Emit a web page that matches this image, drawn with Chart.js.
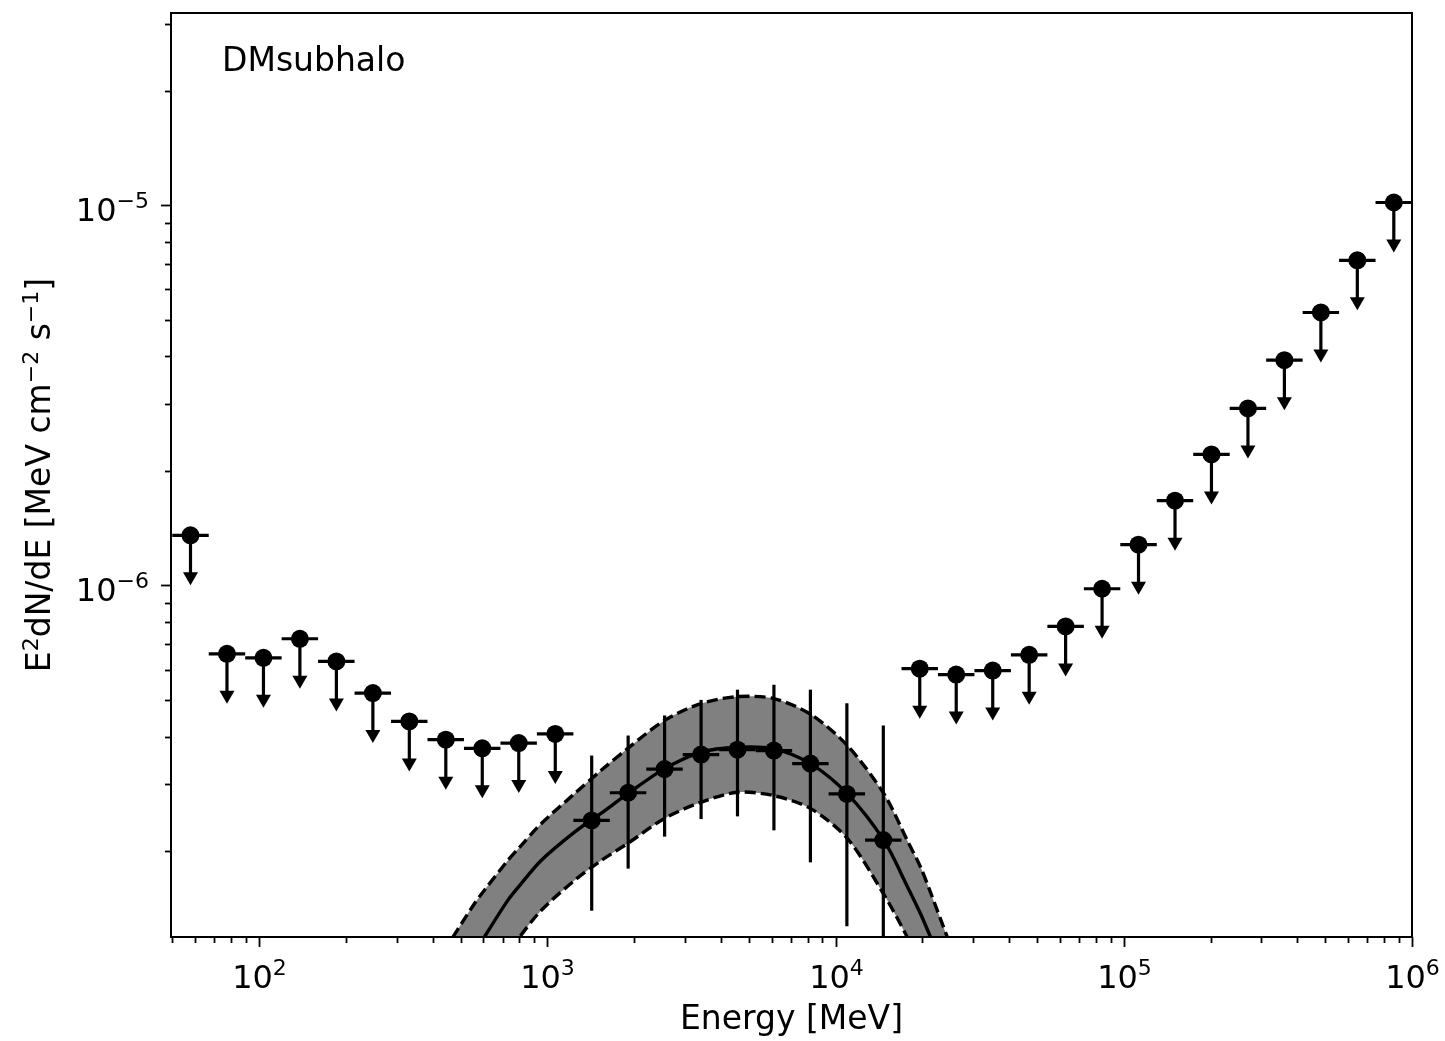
<!DOCTYPE html>
<html>
<head>
<meta charset="utf-8">
<script src="https://cdn.jsdelivr.net/npm/chart.js@4.4.0/dist/chart.umd.min.js"></script>
<style>
  html, body { margin: 0; padding: 0; background: #fff; }
  #wrap { width: 1445px; height: 1041px; }
</style>
</head>
<body>
<div id="wrap"><canvas id="sed"></canvas></div>
<script>
// energy bins (MeV): 34 bins from 50 MeV to 1 TeV
const binEdges = [50.0, 66.92, 89.54, 119.8, 160.3, 214.5, 287.1, 384.1, 514.0, 687.9, 920.4,
  1232, 1648, 2206, 2951, 3949, 5284, 7071, 9462, 12660, 16940, 22670, 30340, 40600, 54330,
  72700, 97270, 130200, 174200, 233100, 311900, 417400, 558500, 747300, 1000000];
const binCenters = [57.84, 77.41, 103.6, 138.6, 185.5, 248.3, 332.2, 444.6, 595.0, 796.3, 1066,
  1426, 1908, 2553, 3417, 4570, 6114, 8182, 10950, 14650, 19600, 26230, 35110, 46970, 62850,
  84100, 112500, 150600, 201500, 269700, 360800, 482900, 646100, 864700];

// E^2 dN/dE (MeV cm^-2 s^-1): flux for detections, upper limit otherwise
const fluxValues = [1.354e-6, 6.61e-7, 6.45e-7, 7.24e-7, 6.31e-7, 5.21e-7, 4.39e-7, 3.93e-7, 3.73e-7, 3.85e-7, 4.07e-7,
  2.41e-7, 2.85e-7, 3.29e-7, 3.59e-7, 3.70e-7, 3.68e-7, 3.40e-7, 2.83e-7, 2.14e-7,
  6.04e-7, 5.83e-7, 5.97e-7, 6.57e-7, 7.80e-7, 9.80e-7, 1.28e-6, 1.67e-6, 2.21e-6, 2.92e-6, 3.91e-6, 5.22e-6, 7.16e-6, 1.016e-5];
// error bar ends, null = upper limit
const fluxLow = [null, null, null, null, null, null, null, null, null, null, null,
  1.395e-7, 1.80e-7, 2.185e-7, 2.43e-7, 2.47e-7, 2.27e-7, 1.87e-7, 1.27e-7, 5.0e-8,
  null, null, null, null, null, null, null, null, null, null, null, null, null, null];
const fluxHigh = [null, null, null, null, null, null, null, null, null, null, null,
  3.57e-7, 4.03e-7, 4.55e-7, 5.00e-7, 5.32e-7, 5.48e-7, 5.32e-7, 4.90e-7, 4.28e-7,
  null, null, null, null, null, null, null, null, null, null, null, null, null, null];

// best-fit model and its band
const modelEnergy = [469.6, 557.9, 604.1, 728.5, 799.0, 950.2, 1240, 1535, 1899, 2543, 3409, 4570, 6111, 8204, 11000, 14730, 17760, 19740, 21380, 24440];
const modelFlux = [8.41e-8, 1.071e-7, 1.187e-7, 1.483e-7, 1.619e-7, 1.889e-7, 2.243e-7, 2.515e-7, 2.830e-7, 3.293e-7, 3.641e-7, 3.753e-7, 3.717e-7, 3.395e-7, 2.830e-7, 2.132e-7, 1.614e-7, 1.368e-7, 1.187e-7, 9.24e-8];
const modelUpper = [1.187e-7, 1.453e-7, 1.577e-7, 1.889e-7, 2.044e-7, 2.36e-7, 2.830e-7, 3.26e-7, 3.724e-7, 4.41e-7, 4.89e-7, 5.10e-7, 5.04e-7, 4.58e-7, 3.79e-7, 2.83e-7, 2.132e-7, 1.814e-7, 1.556e-7, 1.187e-7];
const modelLower = [6.23e-8, 7.99e-8, 8.81e-8, 1.083e-7, 1.187e-7, 1.395e-7, 1.674e-7, 1.889e-7, 2.095e-7, 2.436e-7, 2.69e-7, 2.858e-7, 2.80e-7, 2.589e-7, 2.159e-7, 1.537e-7, 1.187e-7, 1.003e-7, 8.81e-8, 7.08e-8];

const xMajorTicks = [100, 1000, 10000, 100000, 1000000];
const xTickExps = ["2", "3", "4", "5", "6"];
const yMajorTicks = [1e-6, 1e-5];
const yTickExps = ["\u22126", "\u22125"];

const sourceName = "DMsubhalo";

function minorTicks(lo, hi, fromExp, toExp) {
  let out = [];
  for (let e = fromExp; e <= toExp; e++) {
    for (let m = 1; m <= 9; m++) {
      let v = m * Math.pow(10, e);
      if (v >= lo && v <= hi) out.push(v);
    }
  }
  return out;
}

const xMin = 49.5, xMax = 1e6, yMin = 1.19e-7, yMax = 3.2e-5;
const xTicksAll = minorTicks(xMin, xMax, 1, 6);
const yTicksAll = minorTicks(yMin, yMax, -7, -5);

function majorIndex(v, majors) {
  return majors.findIndex(m => Math.abs(v / m - 1) < 1e-6);
}

const font = "DejaVu Sans";
const tickFont = "32px '" + font + "'";
const labelFont = "33px '" + font + "'";
const supFont = "22px '" + font + "'";

// draw text made of [string, isSuperscript] pieces starting at x (baseline y)
function drawPieces(ctx, pieces, x, y, raise, base) {
  pieces.forEach(([s, sup]) => {
    ctx.font = sup ? supFont : base;
    ctx.fillText(s, x, sup ? y - raise : y);
    x += ctx.measureText(s).width;
  });
}
function piecesWidth(ctx, pieces, base) {
  let w = 0;
  pieces.forEach(([s, sup]) => { ctx.font = sup ? supFont : base; w += ctx.measureText(s).width; });
  return w;
}

const sedPlugin = {
  id: "sedMarks",
  afterDatasetsDraw(chart) {
    const { ctx, chartArea: a, scales: { x, y } } = chart;
    ctx.save();
    ctx.beginPath();
    ctx.rect(a.left, a.top, a.right - a.left, a.bottom - a.top);
    ctx.clip();
    ctx.strokeStyle = "#000";
    ctx.fillStyle = "#000";
    ctx.lineWidth = 3.2;
    binCenters.forEach((e, i) => {
      const px = x.getPixelForValue(e);
      const py = y.getPixelForValue(fluxValues[i]);
      ctx.beginPath();
      ctx.moveTo(x.getPixelForValue(binEdges[i]), py);
      ctx.lineTo(x.getPixelForValue(binEdges[i + 1]), py);
      ctx.stroke();
      if (fluxLow[i] === null) {
        const tip = py + 50;
        ctx.beginPath();
        ctx.moveTo(px, py);
        ctx.lineTo(px, tip - 8);
        ctx.stroke();
        ctx.beginPath();
        ctx.moveTo(px - 7.5, tip - 13);
        ctx.lineTo(px + 7.5, tip - 13);
        ctx.lineTo(px, tip);
        ctx.closePath();
        ctx.fill();
      } else {
        ctx.beginPath();
        ctx.moveTo(px, y.getPixelForValue(fluxLow[i]));
        ctx.lineTo(px, y.getPixelForValue(fluxHigh[i]));
        ctx.stroke();
      }
    });
    ctx.restore();
  },
  afterDraw(chart) {
    const { ctx, chartArea: a, scales: { x, y } } = chart;
    ctx.save();
    ctx.strokeStyle = "#000";
    ctx.fillStyle = "#000";
    ctx.lineWidth = 2;
    ctx.strokeRect(a.left, a.top, a.right - a.left, a.bottom - a.top);
    ctx.lineWidth = 1.8;
    ctx.textAlign = "left";
    ctx.textBaseline = "alphabetic";
    x.ticks.forEach(t => {
      const px = Math.round(x.getPixelForValue(t.value)) + 0.5;
      const k = majorIndex(t.value, xMajorTicks);
      ctx.beginPath();
      ctx.moveTo(px, a.bottom);
      ctx.lineTo(px, a.bottom + (k >= 0 ? 10 : 6));
      ctx.stroke();
      if (k >= 0) {
        const pieces = [["10", false], [xTickExps[k], true]];
        const w = piecesWidth(ctx, pieces, tickFont);
        drawPieces(ctx, pieces, px - w / 2, a.bottom + 51, 13, tickFont);
      }
    });
    y.ticks.forEach(t => {
      const py = Math.round(y.getPixelForValue(t.value)) + 0.5;
      const k = majorIndex(t.value, yMajorTicks);
      ctx.beginPath();
      ctx.moveTo(a.left, py);
      ctx.lineTo(a.left - (k >= 0 ? 10 : 6), py);
      ctx.stroke();
      if (k >= 0) {
        const pieces = [["10", false], [yTickExps[k], true]];
        const w = piecesWidth(ctx, pieces, tickFont);
        drawPieces(ctx, pieces, a.left - 22 - w, py + 15, 13, tickFont);
      }
    });
    // y axis title
    const title = [["E", false], ["2", true], ["dN/dE [MeV cm", false], ["\u22122", true], [" s", false], ["\u22121", true], ["]", false]];
    const tw = piecesWidth(ctx, title, labelFont);
    ctx.save();
    ctx.translate(50, (a.top + a.bottom) / 2);
    ctx.rotate(-Math.PI / 2);
    drawPieces(ctx, title, -tw / 2, 0, 12, labelFont);
    ctx.restore();
    // source name
    ctx.font = labelFont;
    ctx.textBaseline = "middle";
    ctx.fillText(sourceName, a.left + 51, a.top + 49);
    ctx.restore();
  }
};

const ctx = document.getElementById("sed").getContext("2d");

const bandLine = {
  showLine: true,
  borderColor: "#000",
  borderWidth: 3.4,
  borderDash: [11, 5],
  pointRadius: 0,
  tension: 0.3
};

new Chart(ctx, {
  type: "scatter",
  data: {
    datasets: [
      {
        label: "points",
        order: 0,
        data: binCenters.map((e, i) => ({ x: e, y: fluxValues[i] })),
        pointRadius: 9,
        pointBackgroundColor: "#000",
        pointBorderColor: "#000",
        pointBorderWidth: 0,
        showLine: false
      },
      {
        label: "model",
        order: 1,
        data: modelEnergy.map((e, i) => ({ x: e, y: modelFlux[i] })),
        showLine: true,
        borderColor: "#000",
        borderWidth: 3.4,
        pointRadius: 0,
        tension: 0.3,
        fill: false
      },
      Object.assign({
        label: "lower",
        order: 2,
        data: modelEnergy.map((e, i) => ({ x: e, y: modelLower[i] })),
        fill: false
      }, bandLine),
      Object.assign({
        label: "upper",
        order: 3,
        data: modelEnergy.map((e, i) => ({ x: e, y: modelUpper[i] })),
        backgroundColor: "rgb(128,128,128)",
        fill: { target: 2 }
      }, bandLine)
    ]
  },
  options: {
    responsive: true,
    maintainAspectRatio: false,
    devicePixelRatio: 1,
    animation: false,
    layout: { padding: { left: 0, right: 33, top: 13, bottom: 0 } },
    plugins: {
      legend: { display: false },
      tooltip: { enabled: false }
    },
    scales: {
      x: {
        type: "logarithmic",
        min: xMin,
        max: xMax,
        afterBuildTicks: s => { s.ticks = xTicksAll.map(v => ({ value: v })); },
        afterFit: s => { s.height = 104; s.paddingLeft = 0; s.paddingRight = 0; },
        grid: { display: false },
        border: { display: false },
        ticks: { display: false },
        title: {
          display: true,
          text: "Energy [MeV]",
          color: "#000",
          font: { family: font, size: 33 },
          padding: { top: 0, bottom: 1 }
        }
      },
      y: {
        type: "logarithmic",
        min: yMin,
        max: yMax,
        afterBuildTicks: s => { s.ticks = yTicksAll.map(v => ({ value: v })); },
        afterFit: s => { s.width = 171; s.paddingTop = 0; s.paddingBottom = 0; },
        grid: { display: false },
        border: { display: false },
        ticks: { display: false }
      }
    }
  },
  plugins: [sedPlugin]
});
</script>
</body>
</html>
